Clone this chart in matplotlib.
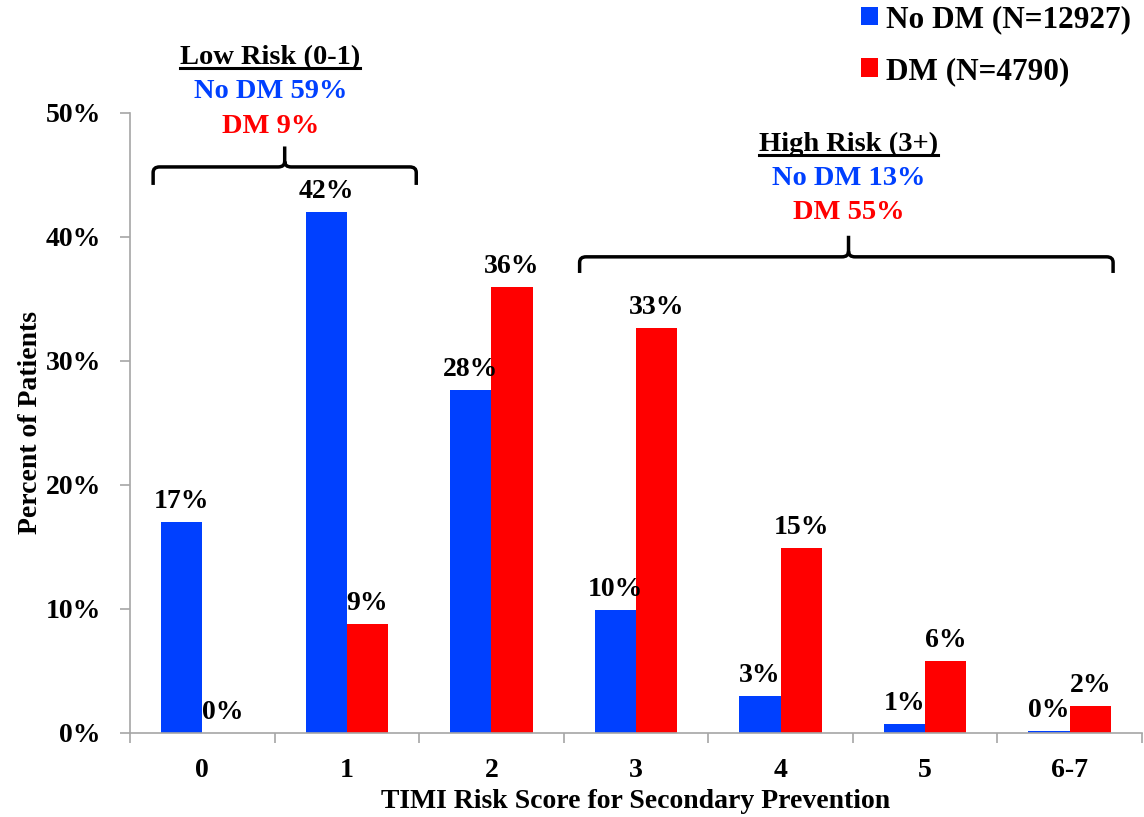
import matplotlib
matplotlib.use("Agg")
import matplotlib.pyplot as plt
from matplotlib.path import Path
from matplotlib.patches import PathPatch
import numpy as np

# TIMI risk score distribution, % of patients
categories = ["0", "1", "2", "3", "4", "5", "6-7"]
no_dm = [17.0, 42.0, 27.7, 9.9, 3.0, 0.7, 0.2]
dm = [0.0, 8.8, 36.0, 32.7, 14.9, 5.8, 2.2]
no_dm_label = "No DM (N=12927)"
dm_label = "DM (N=4790)"

BLUE = "#0040FF"
RED = "#FF0000"
AXIS_GRAY = "#A6A6A6"

plt.rcParams["font.family"] = ["Liberation Serif", "DejaVu Serif"]
plt.rcParams["font.weight"] = "bold"

fig = plt.figure(figsize=(11.44, 8.17), dpi=100)
ax = fig.add_axes([130 / 1144, 1 - 733 / 817, (1142 - 130) / 1144, (733 - 113) / 817])

x = np.arange(len(categories))
w = 1 / 3.5
b1 = ax.bar(x - w / 2, no_dm, w, color=BLUE, label=no_dm_label)
b2 = ax.bar(x + w / 2, dm, w, color=RED, label=dm_label)

for bars, vals in [(b1, no_dm), (b2, dm)]:
    for rect, v in zip(bars, vals):
        ax.annotate(f"{v:.0f}%", (rect.get_x() + rect.get_width() / 2, v),
                    xytext=(0, 10), textcoords="offset points",
                    ha="center", va="baseline", fontsize=20, fontweight="bold")

ax.set_xlim(-0.5, len(categories) - 0.5)
ax.set_ylim(0, 50)
ax.set_yticks(np.arange(0, 51, 10))
ax.set_yticklabels([f"{t}%" for t in range(0, 51, 10)])
ax.set_xticks(x)
ax.set_xticklabels(categories)
ax.set_xticks(np.arange(-0.5, len(categories)), minor=True)
ax.tick_params(axis="x", which="major", length=0, pad=18, labelsize=20)
ax.tick_params(axis="x", which="minor", length=7, width=1.2, color=AXIS_GRAY)
ax.tick_params(axis="y", length=7, width=1.2, color=AXIS_GRAY, pad=14, labelsize=20)
for s in ["top", "right"]:
    ax.spines[s].set_visible(False)
for s in ["left", "bottom"]:
    ax.spines[s].set_color(AXIS_GRAY)
    ax.spines[s].set_linewidth(1.2)

ax.set_xlabel("TIMI Risk Score for Secondary Prevention", fontsize=20, fontweight="bold", labelpad=4)
ax.set_ylabel("Percent of Patients", fontsize=20, fontweight="bold", labelpad=2)


def brace(xl, xr, xt, yl, ye, yt, rx=0.045, ry=0.45):
    verts = [(xl, ye), (xl, yl - ry), (xl, yl), (xl + rx, yl),
             (xt - rx, yl), (xt, yl), (xt, yl + ry), (xt, yt),
             (xt, yl + ry), (xt, yl), (xt + rx, yl),
             (xr - rx, yl), (xr, yl), (xr, yl - ry), (xr, ye)]
    codes = [Path.MOVETO, Path.LINETO, Path.CURVE3, Path.CURVE3,
             Path.LINETO, Path.CURVE3, Path.CURVE3, Path.LINETO,
             Path.MOVETO, Path.CURVE3, Path.CURVE3,
             Path.LINETO, Path.CURVE3, Path.CURVE3, Path.LINETO]
    ax.add_patch(PathPatch(Path(verts, codes), fill=False, lw=2.5,
                           edgecolor="black", clip_on=False, capstyle="butt"))


brace(-0.34, 1.48, 0.57, 45.65, 44.2, 47.3)
brace(2.61, 6.30, 4.47, 38.4, 37.1, 40.1)

titles = []
groups = [(0.47, 54.5, "Low Risk (0-1)", "No DM 59%", "DM 9%"),
          (4.47, 47.5, "High Risk (3+)", "No DM 13%", "DM 55%")]
for gx, gy, head, l1, l2 in groups:
    t = ax.text(gx, gy, head, ha="center", va="center", fontsize=20.5,
                fontweight="bold", clip_on=False)
    titles.append(t)
    ax.text(gx, gy - 2.75, l1, ha="center", va="center", fontsize=20.5,
            fontweight="bold", color=BLUE, clip_on=False)
    ax.text(gx, gy - 5.55, l2, ha="center", va="center", fontsize=20.5,
            fontweight="bold", color=RED, clip_on=False)

fig.legend(handles=[b1, b2], loc="upper left", bbox_to_anchor=(861 / 1144, 1 - 5 / 817),
           frameon=False, handlelength=0.55, handleheight=0.55,
           handletextpad=0.25, labelspacing=0.73, borderpad=0, borderaxespad=0,
           prop={"family": "Liberation Serif", "weight": "bold", "size": 22.5})

# underline the group headings
fig.canvas.draw()
r = fig.canvas.get_renderer()
inv = fig.transFigure.inverted()
for t in titles:
    bb = t.get_window_extent(r)
    (x0, y0), (x1, _) = inv.transform([(bb.x0, bb.y0 + 2), (bb.x1, bb.y0)])
    fig.add_artist(plt.Line2D([x0, x1], [y0, y0], color="black", lw=2.2,
                              transform=fig.transFigure))

fig.savefig("out.png", dpi=100)
